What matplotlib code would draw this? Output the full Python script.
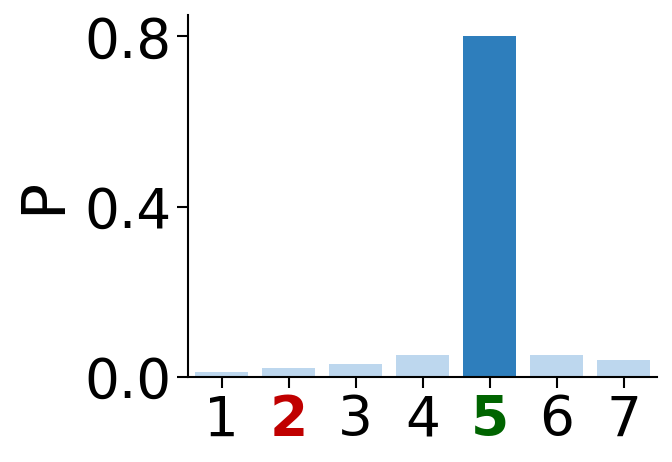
import matplotlib
matplotlib.use("Agg")
import matplotlib.pyplot as plt

categories = ["1", "2", "3", "4", "5", "6", "7"]
values = [0.01, 0.02, 0.03, 0.05, 0.80, 0.05, 0.04]
highlight = "5"
yticks = [0.0, 0.4, 0.8]
ytick_labels = ["0.0", "0.4", "0.8"]
label_colors = {"2": "#c00000", "5": "#006400"}

light = "#bdd7ee"
dark = "#2e7ebc"

fig = plt.figure(figsize=(6.72, 4.62), dpi=100)
ax = fig.add_axes([0.2798, 0.1846, 0.6979, 0.7829])
x = list(range(1, len(categories) + 1))
colors = [dark if c == highlight else light for c in categories]
ax.bar(x, values, width=0.8, color=colors)
ax.set_xlim(0.5, 7.5)
ax.set_ylim(0, 0.85)
ax.set_xticks(x)
ax.set_xticklabels(categories, fontsize=39.5)
ax.set_yticks(yticks)
ax.set_yticklabels(ytick_labels, fontsize=39.5)
for lbl in ax.get_xticklabels():
    t = lbl.get_text()
    if t in label_colors:
        lbl.set_color(label_colors[t])
        lbl.set_fontweight("bold")
ax.set_ylabel("P", fontsize=43, labelpad=8)
ax.spines["top"].set_visible(False)
ax.spines["right"].set_visible(False)
for s in ["left", "bottom"]:
    ax.spines[s].set_linewidth(1.5)
ax.tick_params(axis="both", length=8, width=1.5, pad=4)
fig.savefig("out.png", dpi=100)
